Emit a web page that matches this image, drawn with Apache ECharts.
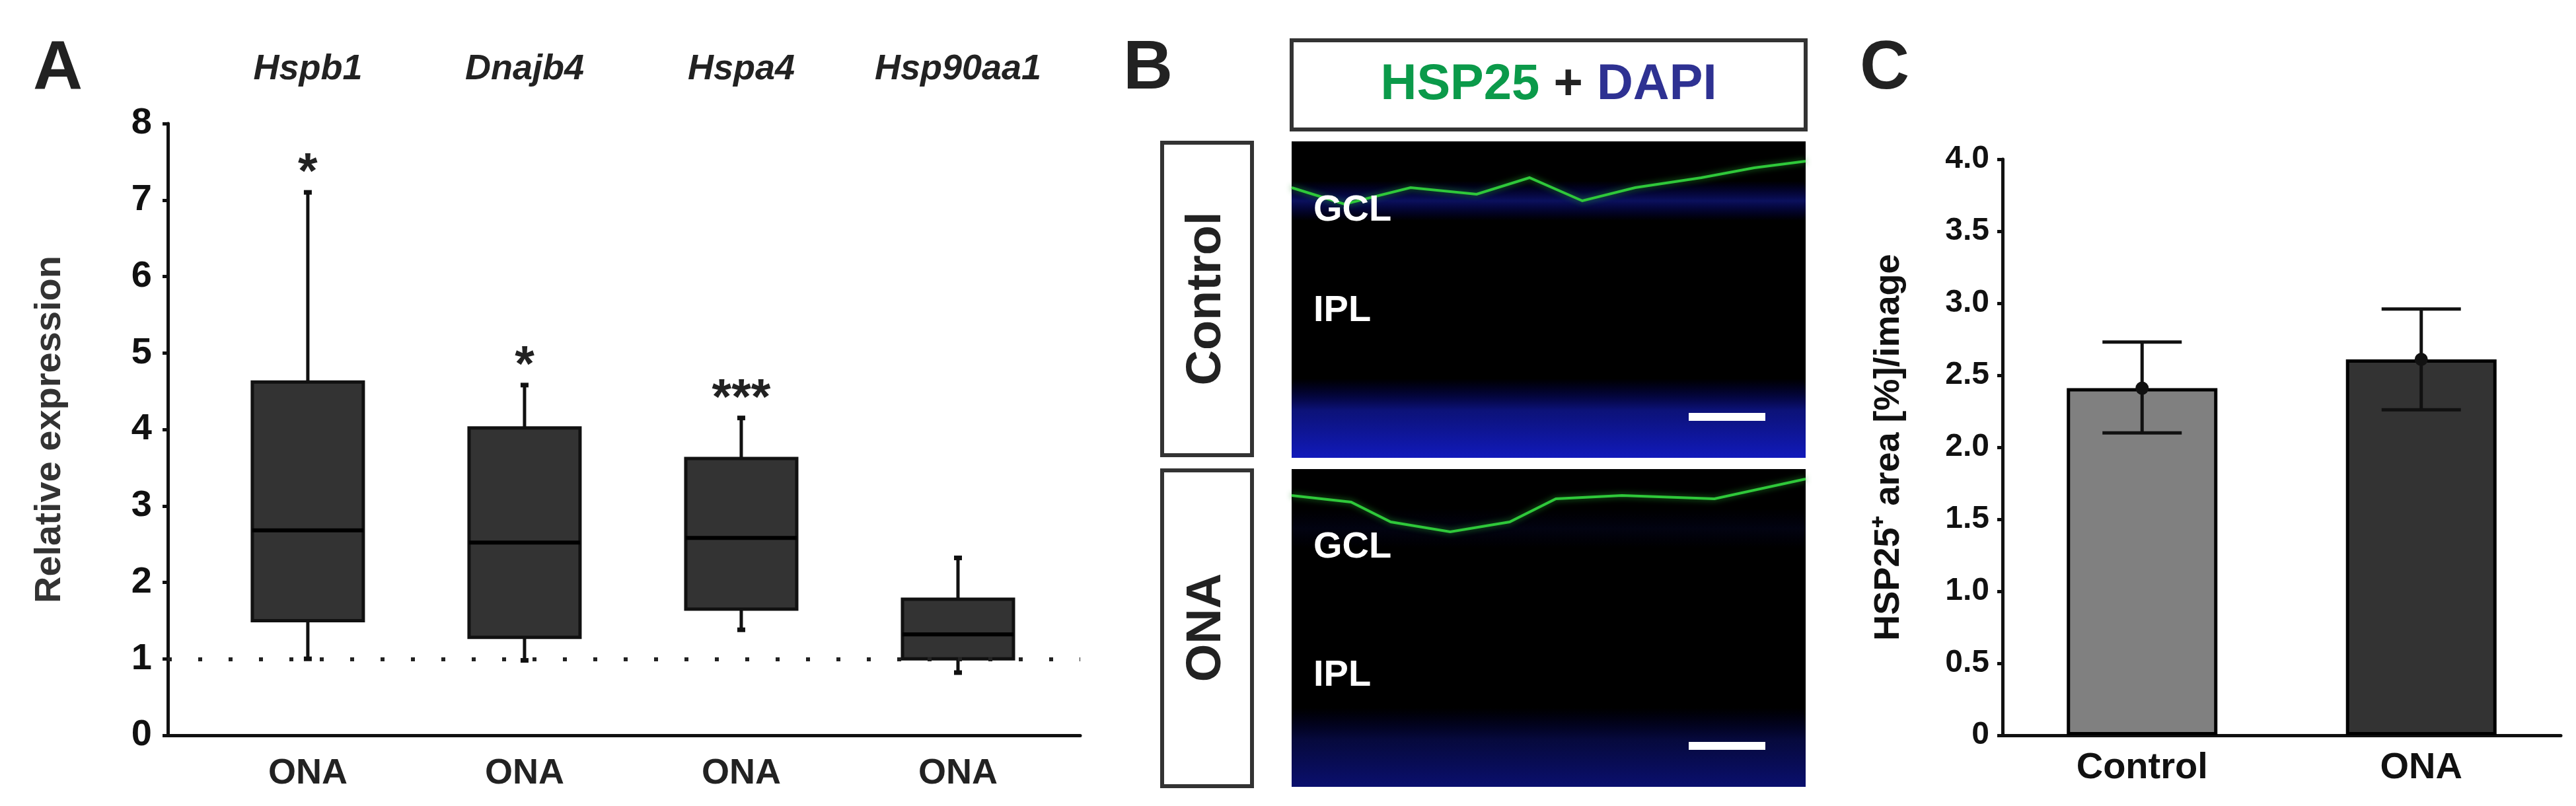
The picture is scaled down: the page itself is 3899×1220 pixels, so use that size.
<!DOCTYPE html>
<html style="height: 100%">
<head>
    <meta charset="utf-8">
</head>
<body style="height: 100%; margin: 0; background: #fff">
<div id="fig" style="width: 3899px; height: 1220px"></div>
<script src="https://cdn.jsdelivr.net/npm/echarts@6/dist/echarts.min.js"></script>
<script type="text/javascript">
    // 数据 A：箱线图 (min, Q1, median, Q3, max)
    var genes = ['Hspb1', 'Dnajb4', 'Hspa4', 'Hsp90aa1'];
    var groupA = ['ONA', 'ONA', 'ONA', 'ONA'];
    var boxMin = [1.0, 0.98, 1.38, 0.82];
    var boxQ1 = [1.5, 1.28, 1.65, 1.0];
    var boxMed = [2.68, 2.52, 2.58, 1.32];
    var boxQ3 = [4.62, 4.02, 3.62, 1.78];
    var boxMax = [7.1, 4.58, 4.15, 2.32];
    var stars = ['*', '*', '***', ''];
    // 数据 C：柱状图 + 误差
    var groupC = ['Control', 'ONA'];
    var meanC = [2.41, 2.61];
    var lowC = [2.10, 2.26];
    var highC = [2.73, 2.96];
    var colorC = ['#808080', '#333333'];

    var sans = '"Liberation Sans", Arial, sans-serif';

    var boxData = genes.map(function (g, i) {
        return [i + 1, boxMin[i], boxQ1[i], boxMed[i], boxQ3[i], boxMax[i], i];
    });

    function renderBox(params, api) {
        var x = api.value(0);
        var i = api.value(6);
        var pMin = api.coord([x, api.value(1)]);
        var pQ1 = api.coord([x, api.value(2)]);
        var pMed = api.coord([x, api.value(3)]);
        var pQ3 = api.coord([x, api.value(4)]);
        var pMax = api.coord([x, api.value(5)]);
        var w = 168, cx = pMin[0];
        var bot0 = api.coord([x, 0])[1];
        var ln = {stroke: '#111', lineWidth: 5};
        return {
            type: 'group',
            children: [
                {type: 'line', shape: {x1: cx, y1: pMax[1], x2: cx, y2: pQ3[1]}, style: ln},
                {type: 'line', shape: {x1: cx, y1: pQ1[1], x2: cx, y2: pMin[1]}, style: ln},
                {type: 'line', shape: {x1: cx - 6, y1: pMax[1], x2: cx + 6, y2: pMax[1]}, style: {stroke: '#111', lineWidth: 7}},
                {type: 'line', shape: {x1: cx - 6, y1: pMin[1], x2: cx + 6, y2: pMin[1]}, style: {stroke: '#111', lineWidth: 7}},
                {type: 'rect', shape: {x: cx - w / 2, y: pQ3[1], width: w, height: pQ1[1] - pQ3[1]},
                    style: {fill: '#333333', stroke: '#111', lineWidth: 5}},
                {type: 'line', shape: {x1: cx - w / 2, y1: pMed[1], x2: cx + w / 2, y2: pMed[1]}, style: {stroke: '#000', lineWidth: 6}},
                {type: 'text', style: {text: stars[i], x: cx, y: pMax[1] + 10, textAlign: 'center', textVerticalAlign: 'bottom',
                    font: 'bold 76px ' + sans, fill: '#222'}},
                {type: 'text', style: {text: genes[i], x: cx, y: 105, textAlign: 'center', textVerticalAlign: 'middle',
                    font: 'italic bold 54px ' + sans, fill: '#222'}},
                {type: 'text', style: {text: groupA[i], x: cx, y: bot0 + 58, textAlign: 'center', textVerticalAlign: 'middle',
                    font: 'bold 54px ' + sans, fill: '#222'}}
            ]
        };
    }

    var errData = groupC.map(function (g, i) { return [i, meanC[i], lowC[i], highC[i]]; });
    function renderErr(params, api) {
        var i = api.value(0);
        var pm = api.coord([i, api.value(1)]);
        var pl = api.coord([i, api.value(2)]);
        var ph = api.coord([i, api.value(3)]);
        var cx = pm[0], hw = 60;
        var ln = {stroke: '#111', lineWidth: 5};
        return {
            type: 'group',
            children: [
                {type: 'line', shape: {x1: cx, y1: ph[1], x2: cx, y2: pl[1]}, style: ln},
                {type: 'line', shape: {x1: cx - hw, y1: ph[1], x2: cx + hw, y2: ph[1]}, style: ln},
                {type: 'line', shape: {x1: cx - hw, y1: pl[1], x2: cx + hw, y2: pl[1]}, style: ln},
                {type: 'circle', shape: {cx: cx, cy: pm[1], r: 10}, style: {fill: '#111'}}
            ]
        };
    }

    // 显微图像（示意）
    function micro(y0, h, top) {
        var x0 = 1955, w = 778, kids = [];
        kids.push({type: 'rect', shape: {x: x0, y: y0, width: w, height: h}, style: {fill: '#000'}});
        kids.push({type: 'rect', shape: {x: x0, y: y0 + h - 120, width: w, height: 120},
            style: {fill: new echarts.graphic.LinearGradient(0, 0, 0, 1, [
                {offset: 0, color: 'rgba(0,0,160,0)'}, {offset: 0.4, color: 'rgba(20,30,200,' + (top ? 0.6 : 0.3) + ')'},
                {offset: 1, color: 'rgba(20,30,220,' + (top ? 0.85 : 0.5) + ')'}])}});
        kids.push({type: 'rect', shape: {x: x0, y: y0 + 60, width: w, height: 60},
            style: {fill: new echarts.graphic.LinearGradient(0, 0, 0, 1, [
                {offset: 0, color: 'rgba(0,0,160,0)'}, {offset: 0.5, color: 'rgba(20,30,170,' + (top ? 0.55 : 0.1) + ')'},
                {offset: 1, color: 'rgba(0,0,160,0)'}])}});
        var pts = top
            ? [[0, 70], [80, 95], [180, 70], [280, 80], [360, 55], [440, 90], [520, 70], [620, 55], [700, 40], [778, 30]]
            : [[0, 40], [90, 50], [150, 80], [240, 95], [330, 80], [400, 45], [500, 40], [640, 45], [778, 15]];
        kids.push({type: 'polyline', shape: {points: pts.map(function (p) { return [x0 + p[0], y0 + p[1]]; })},
            style: {stroke: '#2fc83a', lineWidth: 4, fill: null, shadowBlur: 10, shadowColor: '#1f8a26'}});
        kids.push({type: 'text', style: {text: 'GCL', x: x0 + 33, y: y0 + (top ? 105 : 119), textVerticalAlign: 'middle', font: 'bold 56px ' + sans, fill: '#fff'}});
        kids.push({type: 'text', style: {text: 'IPL', x: x0 + 33, y: y0 + (top ? 257 : 313), textVerticalAlign: 'middle', font: 'bold 56px ' + sans, fill: '#fff'}});
        kids.push({type: 'rect', shape: {x: 2556, y: y0 + h - 68, width: 116, height: 12}, style: {fill: '#fff'}});
        return {type: 'group', children: kids};
    }

    var fig = echarts.init(document.getElementById('fig'), null, {renderer: 'canvas'});
    var option = {
        animation: false,
        backgroundColor: '#fff',
        grid: [
            {left: 254, top: 187, width: 1381, height: 926},
            {left: 3031, top: 241, width: 845, height: 872}
        ],
        xAxis: [
            {gridIndex: 0, type: 'value', min: 0.354, max: 4.564, axisLine: {lineStyle: {color: '#111', width: 5}},
                axisTick: {show: false}, axisLabel: {show: false}, splitLine: {show: false}},
            {gridIndex: 1, type: 'category', data: groupC, axisLine: {lineStyle: {color: '#111', width: 5}},
                axisTick: {show: false}, axisLabel: {color: '#111', fontWeight: 'bold', fontSize: 56, fontFamily: sans, margin: 22}}
        ],
        yAxis: [
            {gridIndex: 0, type: 'value', min: 0, max: 8, interval: 1,
                name: 'Relative expression', nameLocation: 'middle', nameGap: 150, nameRotate: 90,
                nameTextStyle: {color: '#333', fontWeight: 'bold', fontSize: 56, fontFamily: sans},
                axisLine: {show: true, lineStyle: {color: '#111', width: 5}},
                axisTick: {show: true, length: 8, lineStyle: {width: 5, color: '#111'}},
                axisLabel: {color: '#111', fontWeight: 'bold', fontSize: 56, fontFamily: sans, margin: 24},
                splitLine: {show: false}},
            {gridIndex: 1, type: 'value', min: 0, max: 4, interval: 0.5,
                name: 'HSP25⁺ area [%]/image', nameLocation: 'middle', nameGap: 145, nameRotate: 90,
                nameTextStyle: {color: '#111', fontWeight: 'bold', fontSize: 54, fontFamily: sans},
                axisLine: {show: true, lineStyle: {color: '#111', width: 5}},
                axisTick: {show: true, length: 8, lineStyle: {width: 5, color: '#111'}},
                axisLabel: {color: '#111', fontWeight: 'bold', fontSize: 48, fontFamily: sans, margin: 20,
                    formatter: function (v) { return v === 0 ? '0' : v.toFixed(1); }},
                splitLine: {show: false}}
        ],
        series: [
            {type: 'custom', xAxisIndex: 0, yAxisIndex: 0, data: boxData, renderItem: renderBox, z: 3,
                markLine: {silent: true, symbol: 'none', label: {show: false},
                    lineStyle: {type: [6, 40], color: '#222', width: 6}, data: [{yAxis: 1}]}},
            {type: 'bar', xAxisIndex: 1, yAxisIndex: 1, barWidth: 228,
                data: meanC.map(function (v, i) { return {value: v, itemStyle: {color: colorC[i]}}; }),
                itemStyle: {borderColor: '#000', borderWidth: 5}},
            {type: 'custom', xAxisIndex: 1, yAxisIndex: 1, data: errData, renderItem: renderErr, z: 5}
        ],
        graphic: [
            {type: 'text', style: {text: 'A', x: 50, y: 105, textVerticalAlign: 'middle', font: 'bold 104px ' + sans, fill: '#222'}},
            {type: 'text', style: {text: 'B', x: 1700, y: 105, textVerticalAlign: 'middle', font: 'bold 104px ' + sans, fill: '#222'}},
            {type: 'text', style: {text: 'C', x: 2815, y: 105, textVerticalAlign: 'middle', font: 'bold 104px ' + sans, fill: '#222'}},
            {type: 'rect', shape: {x: 1955, y: 61, width: 778, height: 135}, style: {fill: '#fff', stroke: '#333', lineWidth: 6}},
            {type: 'text', style: {
                text: '{g|HSP25}{k| + }{b|DAPI}', x: 2344, y: 129, textAlign: 'center', textVerticalAlign: 'middle',
                rich: {g: {fill: '#0b9a4a', font: 'bold 76px ' + sans}, k: {fill: '#222', font: 'bold 76px ' + sans},
                    b: {fill: '#2e3192', font: 'bold 76px ' + sans}}}},
            {type: 'rect', shape: {x: 1759, y: 216, width: 136, height: 473}, style: {fill: '#fff', stroke: '#333', lineWidth: 6}},
            {type: 'rect', shape: {x: 1759, y: 712, width: 136, height: 478}, style: {fill: '#fff', stroke: '#333', lineWidth: 6}},
            {type: 'text', rotation: Math.PI / 2, x: 1827, y: 452,
                style: {text: 'Control', x: 0, y: 0, textAlign: 'center', textVerticalAlign: 'middle', font: 'bold 74px ' + sans, fill: '#222'}},
            {type: 'text', rotation: Math.PI / 2, x: 1827, y: 950,
                style: {text: 'ONA', x: 0, y: 0, textAlign: 'center', textVerticalAlign: 'middle', font: 'bold 74px ' + sans, fill: '#222'}},
            micro(214, 479, true),
            micro(710, 481, false)
        ]
    };
    fig.setOption(option);
</script>
</body>
</html>
